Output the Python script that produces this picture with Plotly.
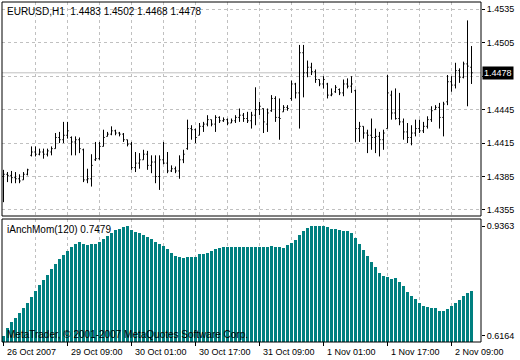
import plotly.graph_objects as go

# ---------------- data ----------------
bar_index = list(range(118))

opens = [1.4385,1.4387,1.4386,1.4384,1.4383,1.4382,1.4387,1.4404,1.4407,1.4405,
         1.4407,1.4405,1.4407,1.4410,1.4420,1.4418,1.4422,1.4420,1.4416,1.4418,
         1.4409,1.4382,1.4383,1.4400,1.4401,1.4412,1.4421,1.4423,1.4426,1.4424,
         1.4423,1.4418,1.4414,1.4393,1.4397,1.4400,1.4405,1.4395,1.4398,1.4385,
         1.4400,1.4397,1.4390,1.4392,1.4390,1.4400,1.4410,1.4428,1.4427,1.4422,
         1.4430,1.4432,1.4436,1.4432,1.4438,1.4435,1.4436,1.4433,1.4435,1.4438,
         1.4440,1.4437,1.4435,1.4440,1.4445,1.4446,1.4432,1.4444,1.4455,1.4438,
         1.4443,1.4447,1.4455,1.4468,1.4460,1.4496,1.4478,1.4483,1.4479,1.4472,
         1.4468,1.4468,1.4458,1.4461,1.4463,1.4460,1.4468,1.4466,1.4462,1.4428,
         1.4430,1.4424,1.4422,1.4420,1.4421,1.4418,1.4428,1.4458,1.4442,1.4437,
         1.4434,1.4425,1.4420,1.4424,1.4428,1.4426,1.4430,1.4436,1.4445,1.4447,
         1.4438,1.4452,1.4470,1.4467,1.4480,1.4474,1.4486,1.4483]
highs = [1.4391,1.4389,1.4390,1.4389,1.4387,1.4389,1.4392,1.4412,1.4412,1.4410,
         1.4410,1.4410,1.4412,1.4424,1.4425,1.4434,1.4434,1.4421,1.4421,1.4420,
         1.4410,1.4392,1.4405,1.4416,1.4416,1.4427,1.4425,1.4430,1.4427,1.4425,
         1.4424,1.4418,1.4416,1.4407,1.4406,1.4409,1.4408,1.4404,1.4404,1.4404,
         1.4416,1.4407,1.4395,1.4394,1.4404,1.4409,1.4436,1.4431,1.4428,1.4433,
         1.4434,1.4440,1.4436,1.4440,1.4439,1.4438,1.4437,1.4437,1.4440,1.4446,
         1.4442,1.4443,1.4443,1.4465,1.4452,1.4446,1.4446,1.4458,1.4457,1.4455,
         1.4449,1.4449,1.4471,1.4469,1.4503,1.4503,1.4489,1.4487,1.4481,1.4472,
         1.4475,1.4469,1.4464,1.4467,1.4464,1.4472,1.4473,1.4475,1.4463,1.4434,
         1.4430,1.4427,1.4437,1.4428,1.4425,1.4427,1.4476,1.4462,1.4464,1.4460,
         1.4437,1.4433,1.4431,1.4436,1.4436,1.4434,1.4439,1.4448,1.4449,1.4451,
         1.4452,1.4476,1.4475,1.4487,1.4482,1.4488,1.4525,1.4502]
lows = [1.4362,1.4380,1.4379,1.4379,1.4379,1.4382,1.4386,1.4403,1.4403,1.4404,
        1.4401,1.4403,1.4404,1.4410,1.4415,1.4415,1.4419,1.4404,1.4404,1.4406,
        1.4380,1.4379,1.4376,1.4399,1.4400,1.4412,1.4421,1.4422,1.4422,1.4421,
        1.4416,1.4412,1.4391,1.4389,1.4392,1.4400,1.4391,1.4388,1.4379,1.4373,
        1.4396,1.4388,1.4389,1.4388,1.4383,1.4397,1.4409,1.4418,1.4415,1.4422,
        1.4425,1.4430,1.4430,1.4425,1.4433,1.4434,1.4431,1.4433,1.4433,1.4434,
        1.4434,1.4433,1.4428,1.4431,1.4440,1.4424,1.4425,1.4443,1.4434,1.4418,
        1.4443,1.4444,1.4453,1.4455,1.4428,1.4456,1.4474,1.4476,1.4469,1.4466,
        1.4464,1.4455,1.4457,1.4460,1.4458,1.4457,1.4464,1.4460,1.4416,1.4416,
        1.4419,1.4406,1.4409,1.4406,1.4403,1.4409,1.4428,1.4436,1.4436,1.4431,
        1.4418,1.4415,1.4413,1.4421,1.4424,1.4424,1.4428,1.4434,1.4445,1.4428,
        1.4421,1.4449,1.4461,1.4464,1.4469,1.4473,1.4448,1.4468]
closes = [1.4387,1.4386,1.4384,1.4383,1.4381,1.4387,1.4391,1.4407,1.4405,1.4407,
          1.4405,1.4408,1.4410,1.4420,1.4418,1.4422,1.4426,1.4416,1.4418,1.4410,
          1.4382,1.4383,1.4395,1.4401,1.4412,1.4420,1.4423,1.4426,1.4424,1.4423,
          1.4418,1.4414,1.4393,1.4397,1.4400,1.4405,1.4395,1.4398,1.4385,1.4400,
          1.4397,1.4390,1.4392,1.4390,1.4400,1.4405,1.4428,1.4427,1.4420,1.4430,
          1.4432,1.4436,1.4432,1.4438,1.4435,1.4436,1.4433,1.4435,1.4438,1.4440,
          1.4437,1.4435,1.4440,1.4445,1.4448,1.4434,1.4442,1.4455,1.4438,1.4437,
          1.4447,1.4446,1.4468,1.4460,1.4496,1.4478,1.4483,1.4479,1.4472,1.4468,
          1.4472,1.4458,1.4459,1.4465,1.4460,1.4468,1.4466,1.4468,1.4428,1.4430,
          1.4424,1.4422,1.4420,1.4421,1.4418,1.4424,1.4460,1.4442,1.4437,1.4434,
          1.4425,1.4420,1.4424,1.4428,1.4426,1.4430,1.4436,1.4444,1.4447,1.4438,
          1.4450,1.4470,1.4467,1.4480,1.4474,1.4486,1.4484,1.4478]

anch_mom = [0.6164,0.638,0.657,0.669,0.683,0.698,0.712,0.730,0.747,0.764,
            0.779,0.793,0.810,0.825,0.839,0.852,0.863,0.874,0.883,0.889,
            0.883,0.881,0.883,0.885,0.890,0.898,0.906,0.915,0.924,0.929,
            0.933,0.936,0.924,0.919,0.915,0.910,0.903,0.898,0.890,0.883,
            0.879,0.868,0.858,0.850,0.845,0.842,0.845,0.847,0.847,0.854,
            0.856,0.859,0.863,0.868,0.871,0.874,0.874,0.874,0.876,0.876,
            0.876,0.876,0.876,0.876,0.876,0.876,0.874,0.879,0.874,0.874,
            0.871,0.881,0.886,0.895,0.910,0.922,0.931,0.935,0.935,0.9355,
            0.9363,0.932,0.929,0.927,0.924,0.922,0.921,0.915,0.902,0.883,
            0.866,0.850,0.832,0.816,0.800,0.790,0.788,0.782,0.786,0.774,
            0.761,0.745,0.732,0.723,0.711,0.704,0.701,0.698,0.696,0.689,
            0.689,0.694,0.703,0.712,0.720,0.732,0.742,0.7479]

price_ticks = [1.4535, 1.4505, 1.4475, 1.4445, 1.4415, 1.4385, 1.4355]
# 1.4475 sits under the current-price box in the original, so its label is hidden
price_tick_labels = ["1.4535", "1.4505", "", "1.4445", "1.4415", "1.4385", "1.4355"]
mom_ticks = [0.9363, 0.6164]
mom_tick_labels = ["0.9363", "0.6164"]
time_tick_index = [0, 16, 32, 48, 64, 80, 96, 112]
time_tick_labels = ["26 Oct 2007", "29 Oct 09:00", "30 Oct 01:00", "30 Oct 17:00",
                    "31 Oct 09:00", "1 Nov 01:00", "1 Nov 17:00", "2 Nov 09:00"]
grid_index = [8, 16, 24, 32, 40, 48, 56, 64, 72, 80, 88, 96, 104, 112]
bid_price = 1.4478
bid_label = "1.4478"
header_text = "EURUSD,H1\u00a0\u00a01.4483 1.4502 1.4468 1.4478"
indicator_text = "iAnchMom(120) 0.7479"
copyright_text = "MetaTrader, © 2001-2007 MetaQuotes Software Corp."

# ---------------- figure ----------------
FONT = "Liberation Sans, Arial, sans-serif"
GRID = "#c0c0c0"
TEAL = "#008080"

fig = go.Figure()
fig.add_trace(go.Ohlc(
    x=bar_index, open=opens, high=highs, low=lows, close=closes,
    xaxis="x", yaxis="y", tickwidth=0.3,
    increasing=dict(line=dict(color="black", width=1)),
    decreasing=dict(line=dict(color="black", width=1)),
    hoverinfo="skip", showlegend=False))
fig.add_trace(go.Bar(
    x=bar_index, y=anch_mom, xaxis="x", yaxis="y2", width=0.75,
    marker=dict(color=TEAL, line=dict(width=0)),
    hoverinfo="skip", showlegend=False))

W, H = 520, 360
ML, MR, MT, MB = 2, 39, 2, 18
PH = H - MT - MB  # 340


def py(p):
    return (H - MB - p) / PH


top_dom = [py(216), 1.0]
bot_dom = [0.0, py(219)]

fig.update_layout(
    width=W, height=H, autosize=False,
    margin=dict(l=ML, r=MR, t=MT, b=MB, pad=0),
    paper_bgcolor="white", plot_bgcolor="white",
    showlegend=False, bargap=0,
    font=dict(family=FONT, size=9, color="black"),
    xaxis=dict(range=[-0.375, 119.375], domain=[0, 1], anchor="y2",
               tickmode="array", tickvals=grid_index, showticklabels=False,
               ticks="", showgrid=True, gridcolor=GRID, gridwidth=1,
               griddash="3px,3px", zeroline=False, showline=False,
               rangeslider=dict(visible=False), fixedrange=True,
               automargin=False),
    yaxis=dict(domain=top_dom, range=[1.43496, 1.45415], side="right",
               anchor="x", tickmode="array", tickvals=price_ticks,
               ticktext=price_tick_labels, ticks="outside", ticklen=3,
               tickcolor="black", tickwidth=1, showgrid=True, gridcolor=GRID,
               gridwidth=1, griddash="3px,3px", zeroline=False,
               showline=False, tickfont=dict(family=FONT, size=9, color="black"),
               fixedrange=True, automargin=False),
    yaxis2=dict(domain=bot_dom, range=[0.598, 0.9567], side="right",
                anchor="x", tickmode="array", tickvals=mom_ticks,
                ticktext=mom_tick_labels, ticks="outside", ticklen=3,
                tickcolor="black", tickwidth=1, showgrid=False,
                zeroline=False, showline=False,
                tickfont=dict(family=FONT, size=9, color="black"),
                fixedrange=True, automargin=False),
)

shapes = []
# bid line
shapes.append(dict(type="line", xref="paper", yref="y", x0=0, x1=1,
                   y0=bid_price, y1=bid_price, line=dict(color=GRID, width=1),
                   layer="below"))
# panel borders
shapes.append(dict(type="rect", xref="paper", yref="y domain", x0=0, x1=1,
                   y0=0, y1=1, line=dict(color="black", width=1)))
shapes.append(dict(type="rect", xref="paper", yref="y2 domain", x0=0, x1=1,
                   y0=0, y1=1, line=dict(color="black", width=1)))
# time axis tick marks
for i in time_tick_index:
    shapes.append(dict(type="line", xref="x", yref="paper", x0=i, x1=i,
                       y0=0, y1=-4 / PH, line=dict(color="black", width=1)))
fig.update_layout(shapes=shapes)

ann = []
ann.append(dict(text=header_text, xref="paper", yref="paper", x=0, y=py(11),
                xanchor="left", yanchor="middle", xshift=3, showarrow=False,
                font=dict(family=FONT, size=10, color="black")))
ann.append(dict(text=indicator_text, xref="paper", yref="paper", x=0, y=py(229),
                xanchor="left", yanchor="middle", xshift=3, showarrow=False,
                font=dict(family=FONT, size=10, color="black")))
ann.append(dict(text=copyright_text, xref="paper", yref="paper", x=0, y=py(334),
                xanchor="left", yanchor="middle", xshift=3, showarrow=False,
                font=dict(family=FONT, size=10, color="black")))
for i, lab in zip(time_tick_index, time_tick_labels):
    ann.append(dict(text=lab, xref="x", yref="paper", x=i, y=py(352),
                    xanchor="left", yanchor="middle", xshift=1, showarrow=False,
                    font=dict(family=FONT, size=9, color="black")))
ann.append(dict(text=bid_label, xref="paper", yref="y", x=1, y=bid_price,
                xanchor="left", yanchor="middle", xshift=1, showarrow=False,
                bgcolor="black", borderpad=1,
                font=dict(family=FONT, size=9, color="white")))
fig.update_layout(annotations=ann)

fig.write_html("out.html",
               config={"displayModeBar": False, "staticPlot": True},
               post_script="document.body.style.margin='0px';"
                           "document.body.style.overflow='hidden';")
